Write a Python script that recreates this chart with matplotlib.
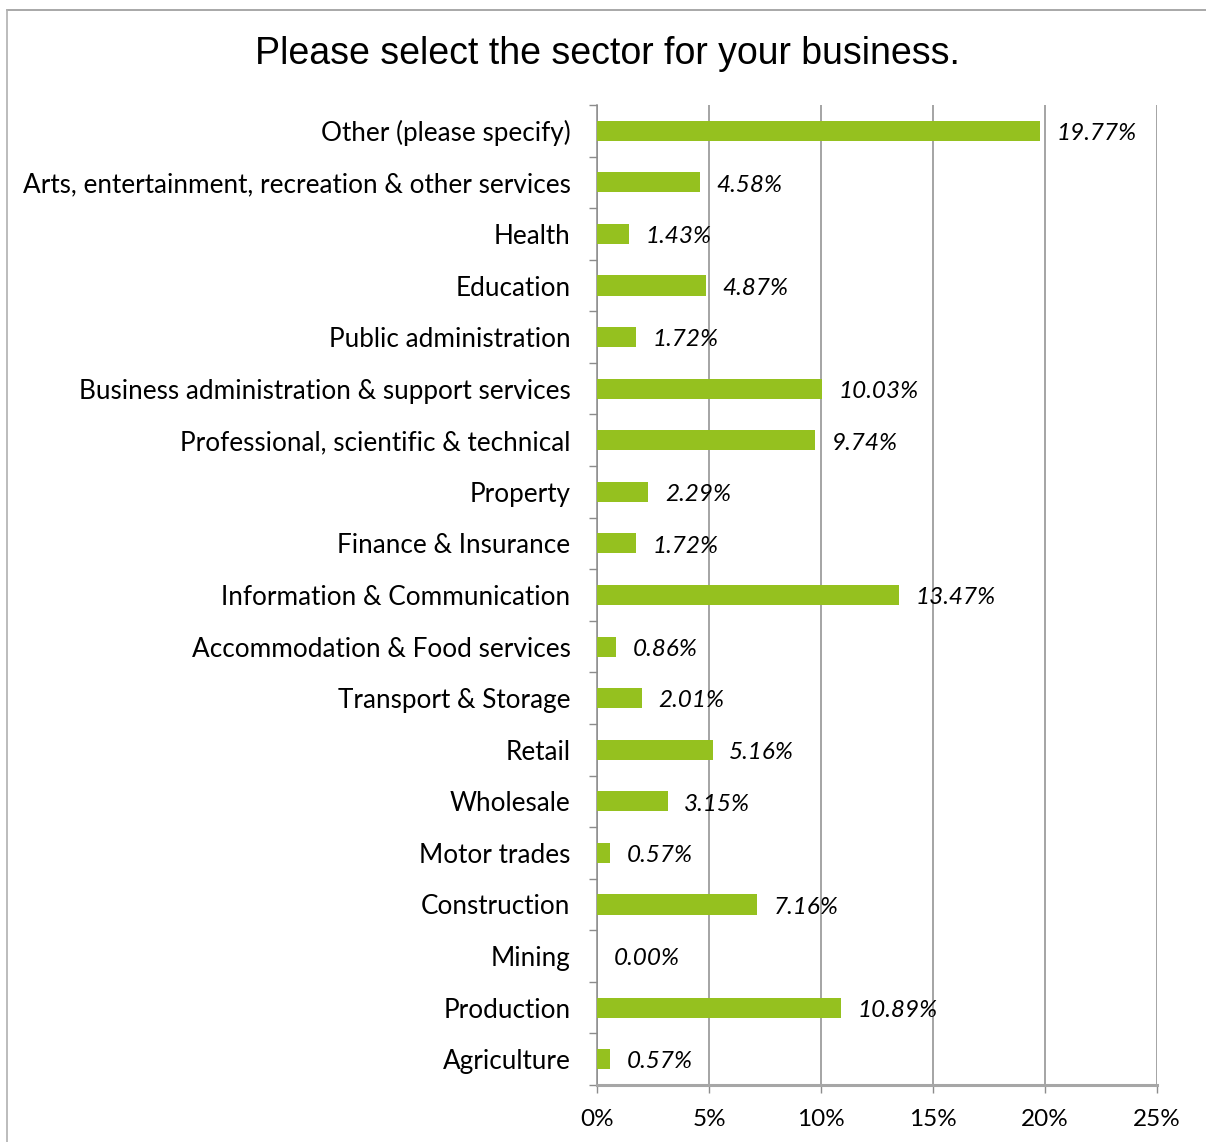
import matplotlib.pyplot as plt
from matplotlib.lines import Line2D
from matplotlib.ticker import FixedLocator, FuncFormatter

sectors = [
    "Agriculture", "Production", "Mining", "Construction", "Motor trades",
    "Wholesale", "Retail", "Transport & Storage",
    "Accommodation & Food services", "Information & Communication",
    "Finance & Insurance", "Property", "Professional, scientific & technical",
    "Business administration & support services", "Public administration",
    "Education", "Health", "Arts, entertainment, recreation & other services",
    "Other (please specify)",
]
shares = [0.57, 10.89, 0.00, 7.16, 0.57, 3.15, 5.16, 2.01, 0.86, 13.47,
          1.72, 2.29, 9.74, 10.03, 1.72, 4.87, 1.43, 4.58, 19.77]
x_ticks = [0, 5, 10, 15, 20, 25]

plt.rcParams['font.family'] = ['Lato', 'DejaVu Sans']

W, H = 1206, 1142
fig = plt.figure(figsize=(W / 100, H / 100), dpi=100)
ax = fig.add_axes([597 / W, 1 - 1085 / H, 560 / W, 980 / H])

pos = list(range(len(sectors)))
ax.barh(pos, shares, height=0.39, color='#95C11F', zorder=3)
for y, v in zip(pos, shares):
    ax.annotate(f"{v:.2f}%", (v, y), xytext=(12, -2), textcoords='offset points',
                va='center', ha='left', fontsize=17.5, style='italic',
                color='black', zorder=4)

ax.set_xlim(0, 25)
ax.set_ylim(-0.5, len(sectors) - 0.5)
ax.xaxis.set_major_locator(FixedLocator(x_ticks))
ax.xaxis.set_major_formatter(FuncFormatter(lambda v, p: f"{v:.0f}%"))
ax.grid(axis='x', color='#8c8c8c', linewidth=1.1, zorder=0)

ax.set_yticks(pos)
ax.set_yticklabels(sectors, fontsize=18.8)
ax.set_yticks([p - 0.5 for p in pos] + [len(sectors) - 0.5], minor=True)
ax.tick_params(axis='y', which='major', length=0, pad=19)
ax.tick_params(axis='y', which='minor', length=6, width=1, color='#8c8c8c')
ax.tick_params(axis='x', length=6, width=1, color='#8c8c8c', pad=11,
               labelsize=17.5)

for side in ('top', 'right'):
    ax.spines[side].set_visible(False)
ax.spines['left'].set_color('#8c8c8c')
ax.spines['left'].set_linewidth(1.1)
ax.spines['bottom'].set_color('#a6a6a6')
ax.spines['bottom'].set_linewidth(2.2)

fig.text(607 / W, 1 - 54 / H, "Please select the sector for your business.",
         ha='center', va='center', fontsize=27, family='Liberation Sans')

# outer chart frame
x0, y0 = 6.5 / W, 1 - 9.5 / H
fig.add_artist(Line2D([x0, 1], [y0, y0], color='#9a9a9a', linewidth=1.2))
fig.add_artist(Line2D([x0, x0], [0, y0], color='#b0b0b0', linewidth=1.2))

fig.savefig('out.png', dpi=100)
